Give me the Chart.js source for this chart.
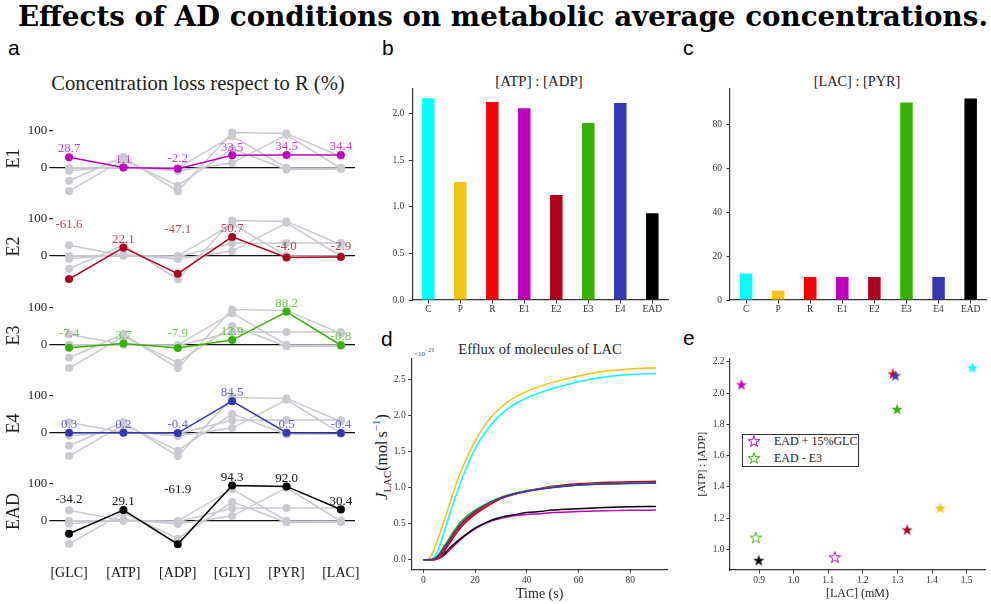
<!DOCTYPE html>
<html>
<head>
<meta charset="utf-8">
<script src="https://cdn.jsdelivr.net/npm/chart.js@4.4.1/dist/chart.umd.min.js"></script>
<style>
  body { margin: 0; width: 991px; height: 604px; position: relative; overflow: hidden; background: #fff;
         font-family: "Liberation Serif", "Times New Roman", serif; color: #222; }
  .pane { position: absolute; }
  .txt { position: absolute; white-space: nowrap; line-height: 1; transform: translate(-50%, -50%); }
  .letter { position: absolute; font-family: "Liberation Sans", Arial, sans-serif; font-size: 21px; line-height: 1; color: #000; }
  #legendE { position: absolute; left: 742px; top: 434px; width: 115px; height: 31px; border: 1px solid #333; background: #fff; }
  #legendE div { position: absolute; left: 31px; font-size: 12px; line-height: 1; white-space: nowrap; transform: translateY(-50%); }
  #legendE canvas { position: absolute; left: 3px; }
</style>
</head>
<body>

<div class="txt" id="mainTitle" style="left:503px; top:17px; font-family:'DejaVu Serif',serif; font-weight:bold; font-size:25px; color:#000">Effects of AD conditions on metabolic average concentrations.</div>

<div class="letter" style="left:8px; top:37px">a</div>
<div class="letter" style="left:382px; top:37px">b</div>
<div class="letter" style="left:683px; top:37px">c</div>
<div class="letter" style="left:381px; top:328px">d</div>
<div class="letter" style="left:683px; top:327px">e</div>

<div class="txt fit" data-w="293" style="left:198px; top:83px; font-size:18px">Concentration loss respect to R (%)</div>
<div class="txt fit" data-w="87" style="left:539px; top:80.5px; font-size:14px">[ATP] : [ADP]</div>
<div class="txt fit" data-w="87" style="left:857px; top:80.5px; font-size:14px">[LAC] : [PYR]</div>
<div class="txt fit" data-w="164" style="left:540px; top:349px; font-size:14px">Efflux of molecules of LAC</div>
<div class="txt" style="left:382px; top:457px; font-size:16px; transform:translate(-50%,-50%) rotate(-90deg)"><i>J</i><sub style="font-size:0.68em">LAC</sub>(mol&#8201;s<sup style="font-size:0.68em">&minus;1</sup>)</div>
<div class="txt" style="left:424px; top:353px; font-size:7px; color:#444">&times;10<sup>&minus;23</sup></div>

<div id="legendE">
  <div style="top:6px">EAD + 15%GLC</div>
  <div style="top:22.5px">EAD - E3</div>
</div>

<script>
// --- DATA ---
const metabolites = ['[GLC]', '[ATP]', '[ADP]', '[GLY]', '[PYR]', '[LAC]'];
const lossConditions = ['E1', 'E2', 'E3', 'E4', 'EAD'];
const lossE1 = [28.7, 1.1, -2.2, 33.5, 34.5, 34.4];
const lossE2 = [-61.6, 22.1, -47.1, 50.7, -4.0, -2.9];
const lossE3 = [-7.4, 3.7, -7.9, 12.9, 88.2, -0.8];
const lossE4 = [0.3, 0.2, -0.4, 84.5, 0.5, -0.4];
const lossEAD = [-34.2, 29.1, -61.9, 94.3, 92.0, 30.4];
const lossTicks = [0, 100];

const ratioConditions = ['C', 'P', 'R', 'E1', 'E2', 'E3', 'E4', 'EAD'];
const atpAdp = [2.163, 1.265, 2.124, 2.055, 1.127, 1.898, 2.113, 0.931];
const lacPyr = [12.1, 4.2, 10.5, 10.5, 10.5, 90.0, 10.5, 91.8];
const atpAdpTicks = [0, 0.5, 1.0, 1.5, 2.0];
const lacPyrTicks = [0, 20, 40, 60, 80];

// efflux of LAC, units of 1e-23 mol/s
const effluxTime = [0, 2, 4, 6, 8, 10, 12, 15, 20, 25, 30, 35, 40, 45, 50, 60, 70, 80, 90];
const effluxC   = [0, 0, 0.03, 0.16, 0.38, 0.61, 0.83, 1.13, 1.54, 1.82, 2.02, 2.155, 2.25, 2.32, 2.38, 2.475, 2.54, 2.575, 2.59];
const effluxP   = [0, 0.01, 0.13, 0.33, 0.53, 0.76, 0.98, 1.27, 1.65, 1.93, 2.12, 2.25, 2.34, 2.41, 2.465, 2.555, 2.62, 2.65, 2.67];
const effluxR   = [0, 0, 0, 0.04, 0.13, 0.25, 0.36, 0.50, 0.65, 0.76, 0.85, 0.91, 0.95, 0.98, 1.005, 1.04, 1.055, 1.062, 1.065];
const effluxE1  = [0, 0, 0, 0.015, 0.06, 0.13, 0.20, 0.30, 0.43, 0.52, 0.575, 0.61, 0.63, 0.64, 0.655, 0.67, 0.68, 0.687, 0.69];
const effluxE2  = [0, 0, 0, 0.03, 0.11, 0.22, 0.33, 0.47, 0.63, 0.75, 0.85, 0.91, 0.955, 0.99, 1.02, 1.055, 1.075, 1.085, 1.09];
const effluxE3  = [0, 0, 0.01, 0.08, 0.19, 0.30, 0.41, 0.55, 0.69, 0.79, 0.87, 0.92, 0.96, 0.985, 1.01, 1.04, 1.055, 1.062, 1.065];
const effluxE4  = [0, 0, 0.01, 0.06, 0.16, 0.27, 0.38, 0.52, 0.67, 0.78, 0.86, 0.915, 0.955, 0.98, 1.005, 1.04, 1.052, 1.06, 1.062];
const effluxEAD = [0, 0, 0.005, 0.03, 0.08, 0.155, 0.22, 0.31, 0.44, 0.53, 0.59, 0.625, 0.655, 0.67, 0.69, 0.71, 0.725, 0.735, 0.74];
const effluxTicksX = [0, 20, 40, 60, 80];
const effluxTicksY = [0, 0.5, 1.0, 1.5, 2.0, 2.5];

const lacMM = [1.517, 1.424, 1.287, 0.849, 1.328, 1.299, 1.294, 0.899];
const extraNames = ['EAD + 15%GLC', 'EAD - E3'];
const extraLac = [1.119, 0.8905];
const extraAtpAdp = [0.95, 1.076];
const scatterTicksX = [0.9, 1.0, 1.1, 1.2, 1.3, 1.4, 1.5];
const scatterTicksY = [1.0, 1.2, 1.4, 1.6, 1.8, 2.0, 2.2];

// --- STYLE ---
const conditionColors = ['#00ffff', '#f2c40f', '#ff0000', '#bf00bf', '#b0001e', '#33b300', '#3535b5', '#000000'];
const lossLineColors = ['#bf00bf', '#b0001e', '#33b300', '#3535b5', '#000000'];
const lossTextColors = ['rgba(191,0,191,0.75)', 'rgba(176,0,30,0.75)', 'rgba(51,179,0,0.7)', 'rgba(53,53,181,0.75)', '#111'];
const GREY = '#c9c9d1';
const AXIS = '#333';

Chart.defaults.font.family = '"Liberation Serif", "Times New Roman", serif';
Chart.defaults.color = '#333';
Chart.defaults.animation = false;
Chart.defaults.plugins.legend.display = false;
Chart.defaults.plugins.tooltip.enabled = false;

// --- HELPERS ---
function addCanvas(left, top, w, h) {
    const div = document.createElement('div');
    div.className = 'pane';
    div.style.left = left + 'px';
    div.style.top = top + 'px';
    const c = document.createElement('canvas');
    c.width = w;
    c.height = h;
    div.appendChild(c);
    document.body.appendChild(div);
    return c;
}

// fix the axis box so the chart area lands where the reference has it
function boxSize(prop, size) {
    return s => {
        s[prop] = size;
        s.paddingLeft = s.paddingRight = s.paddingTop = s.paddingBottom = 0;
    };
}

function fixedTicks(values) {
    return s => { s.ticks = values.map(v => ({ value: v })); };
}

function starImage(color, filled) {
    const size = 16, R = 6, r = R * 0.382;
    const c = document.createElement('canvas');
    c.width = c.height = size;
    const g = c.getContext('2d');
    g.beginPath();
    for (let i = 0; i < 10; i++) {
        const rad = i % 2 ? r : R;
        const a = -Math.PI / 2 + i * Math.PI / 5;
        g.lineTo(size / 2 + rad * Math.cos(a), size / 2 + 0.6 + rad * Math.sin(a));
    }
    g.closePath();
    if (filled) {
        g.fillStyle = color;
        g.fill();
    } else {
        g.strokeStyle = color;
        g.lineWidth = 1;
        g.stroke();
    }
    return c;
}

const valueLabels = {
    id: 'valueLabels',
    afterDatasetsDraw(chart, args, opts) {
        if (!opts.values) return;
        const { ctx, scales: { x, y } } = chart;
        ctx.save();
        ctx.font = '13px "Liberation Serif"';
        ctx.fillStyle = opts.color;
        ctx.textAlign = 'center';
        ctx.textBaseline = 'middle';
        opts.values.forEach((v, i) => {
            ctx.fillText(v.toFixed(1), x.getPixelForValue(i), y.getPixelForValue(Math.abs(v) + 22));
        });
        ctx.restore();
    }
};

// --- PANEL A: loss profiles ---
const lossSeries = [lossE1, lossE2, lossE3, lossE4, lossEAD];
const toPoints = vals => vals.map((v, i) => ({ x: i, y: v }));

lossConditions.forEach((name, k) => {
    const zero = 168.3 + 88.1 * k;
    const last = k === lossConditions.length - 1;
    const canvas = addCanvas(0, zero - 62, 370, last ? 122 : 96);

    const datasets = lossSeries.map((vals, j) => {
        const hi = j === k;
        return {
            data: toPoints(vals),
            borderColor: hi ? lossLineColors[k] : GREY,
            backgroundColor: hi ? lossLineColors[k] : GREY,
            borderWidth: 1.5,
            pointRadius: 4,
            pointBorderWidth: 0,
            order: hi ? 0 : 1,
            clip: false
        };
    });

    new Chart(canvas, {
        type: 'line',
        data: { datasets },
        options: {
            responsive: false,
            layout: { padding: { left: 0, right: 15, top: 13.1, bottom: last ? 0 : 3.9 } },
            plugins: { valueLabels: { values: lossSeries[k], color: lossTextColors[k] } },
            scales: {
                x: {
                    type: 'linear', min: -0.29, max: 5.26, display: last,
                    afterBuildTicks: fixedTicks(metabolites.map((_, i) => i)),
                    ticks: { callback: v => metabolites[v], font: { size: 14 }, color: '#111', padding: 14, autoSkip: false, maxRotation: 0 },
                    grid: { display: false, drawTicks: false },
                    border: { display: false },
                    afterFit: boxSize('height', last ? 30 : 0)
                },
                y: {
                    min: -80, max: 130,
                    afterBuildTicks: fixedTicks(lossTicks),
                    ticks: { font: { size: 13 }, color: '#222', padding: 2 },
                    grid: {
                        color: c => c.tick && c.tick.value === 0 ? '#111' : 'rgba(0,0,0,0)',
                        tickColor: '#111', tickLength: 4, lineWidth: 1.2
                    },
                    border: { display: false },
                    title: { display: true, text: name, font: { size: 18 }, color: '#222', padding: { top: 3, bottom: 0 } },
                    afterFit: boxSize('width', 53.3)
                }
            }
        },
        plugins: [valueLabels]
    });
});

// --- PANELS B, C: ratio bars ---
function ratioBars(left, values, yMax, ticks, yWidth, padRight, fmt) {
    new Chart(addCanvas(left, 60, 300, 260), {
        type: 'bar',
        data: {
            labels: ratioConditions,
            datasets: [{ data: values, backgroundColor: conditionColors, barPercentage: 0.39, categoryPercentage: 1 }]
        },
        options: {
            responsive: false,
            layout: { padding: { left: 0, right: padRight, top: 28.3, bottom: 2 } },
            scales: {
                x: {
                    grid: { drawOnChartArea: false, offset: false, tickLength: 3.5, color: AXIS },
                    border: { color: AXIS, width: 1.2 },
                    ticks: { font: { size: 9.5 }, padding: 0.5 },
                    afterFit: boxSize('height', 18)
                },
                y: {
                    min: 0, max: yMax,
                    afterBuildTicks: fixedTicks(ticks),
                    ticks: { font: { size: 9.5 }, padding: 4.5, callback: fmt },
                    grid: { drawOnChartArea: false, tickLength: 3.5, color: AXIS },
                    border: { color: AXIS, width: 1.2 },
                    afterFit: boxSize('width', yWidth)
                }
            }
        }
    });
}
ratioBars(380, atpAdp, 2.27, atpAdpTicks, 32.3, 11.7, v => v.toFixed(1));
ratioBars(690, lacPyr, 96.5, lacPyrTicks, 40, 3.3, v => v.toFixed(0));

// --- PANEL D: LAC efflux ---
const effluxSeries = [
    { vals: effluxE4, color: conditionColors[6] },
    { vals: effluxE3, color: conditionColors[5] },
    { vals: effluxR, color: conditionColors[2] },
    { vals: effluxE2, color: conditionColors[4] },
    { vals: effluxEAD, color: conditionColors[7] },
    { vals: effluxE1, color: conditionColors[3] },
    { vals: effluxC, color: conditionColors[0] },
    { vals: effluxP, color: conditionColors[1] }
];

new Chart(addCanvas(370, 330, 310, 274), {
    type: 'line',
    data: {
        datasets: effluxSeries.map(s => ({
            data: s.vals.map((v, i) => ({ x: effluxTime[i], y: v })),
            borderColor: s.color,
            borderWidth: 1.5,
            pointRadius: 0,
            cubicInterpolationMode: 'monotone'
        }))
    },
    options: {
        responsive: false,
        layout: { padding: { left: 0, right: 12.3, top: 28.3, bottom: 0.7 } },
        scales: {
            x: {
                type: 'linear', min: -4.5, max: 94.5,
                afterBuildTicks: fixedTicks(effluxTicksX),
                ticks: { font: { size: 9.5 }, padding: 1.5 },
                grid: { drawOnChartArea: false, tickLength: 3.5, color: AXIS },
                border: { color: AXIS, width: 1.2 },
                title: { display: true, text: 'Time (s)', font: { size: 14 }, color: '#222', padding: { top: 0, bottom: 0.9 } },
                afterFit: boxSize('height', 34)
            },
            y: {
                min: -0.133, max: 2.80,
                afterBuildTicks: fixedTicks(effluxTicksY),
                ticks: { font: { size: 9.5 }, padding: 2.5, callback: v => v.toFixed(1) },
                grid: { drawOnChartArea: false, tickLength: 3.5, color: AXIS },
                border: { color: AXIS, width: 1.2 },
                afterFit: boxSize('width', 41.7)
            }
        }
    }
});

// --- PANEL E: ATP:ADP vs LAC ---
const filledStars = conditionColors.map(c => starImage(c, true));
const openStars = [starImage('#bf00bf', false), starImage('#33b300', false)];

new Chart(addCanvas(690, 330, 300, 274), {
    type: 'scatter',
    data: {
        datasets: [
            {
                data: lacMM.map((v, i) => ({ x: v, y: atpAdp[i] })),
                pointStyle: filledStars
            },
            ...extraNames.map((label, i) => ({
                label,
                data: [{ x: extraLac[i], y: extraAtpAdp[i] }],
                pointStyle: openStars[i]
            }))
        ]
    },
    options: {
        responsive: false,
        layout: { padding: { left: 0, right: 3.3, top: 28.3, bottom: 0 } },
        scales: {
            x: {
                type: 'linear', min: 0.816, max: 1.553,
                afterBuildTicks: fixedTicks(scatterTicksX),
                ticks: { font: { size: 9.5 }, padding: 0.8, callback: v => v.toFixed(1) },
                grid: { drawOnChartArea: false, tickLength: 3.5, color: AXIS },
                border: { color: AXIS, width: 1.2 },
                title: { display: true, text: '[LAC] (mM)', font: { size: 12 }, color: '#222', padding: { top: 0, bottom: 2.8 } },
                afterFit: boxSize('height', 34)
            },
            y: {
                min: 0.868, max: 2.222,
                afterBuildTicks: fixedTicks(scatterTicksY),
                ticks: { font: { size: 9.5 }, padding: 2, callback: v => v.toFixed(1) },
                grid: { drawOnChartArea: false, tickLength: 3.5, color: AXIS },
                border: { color: AXIS, width: 1.2 },
                title: { display: true, text: '[ATP] : [ADP]', font: { size: 11 }, color: '#222', padding: { top: 5.1, bottom: 0 } },
                afterFit: boxSize('width', 40)
            }
        }
    }
});

// legend icons
const legendBox = document.getElementById('legendE');
openStars.forEach((img, i) => {
    const c = document.createElement('canvas');
    c.width = c.height = 16;
    c.getContext('2d').drawImage(img, 0, 0);
    c.style.top = (i === 0 ? -2 : 14.5) + 'px';
    legendBox.appendChild(c);
});

// --- TEXT FITTING ---
function fitWidth(el, target) {
    const w = el.offsetWidth;
    const fs = parseFloat(getComputedStyle(el).fontSize);
    if (w > 0) el.style.fontSize = (fs * target / w) + 'px';
}
fitWidth(document.getElementById('mainTitle'), 970);
document.querySelectorAll('.fit').forEach(el => fitWidth(el, parseFloat(el.dataset.w)));
</script>
</body>
</html>
